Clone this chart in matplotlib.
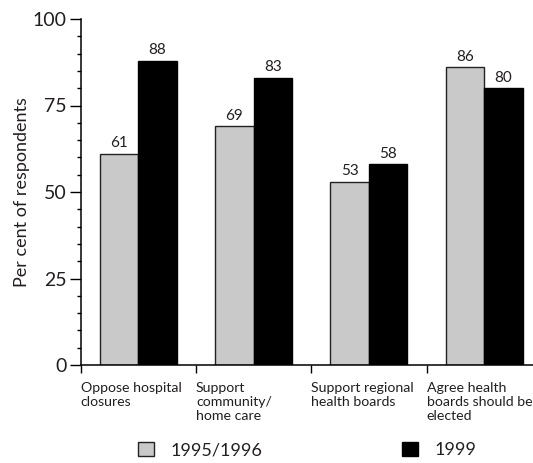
import matplotlib
matplotlib.use("Agg")
import matplotlib.pyplot as plt
from matplotlib.patches import Patch
from matplotlib.ticker import MultipleLocator

plt.rcParams['font.family'] = ['Lato', 'DejaVu Sans']

categories = ["Oppose hospital\nclosures", "Support\ncommunity/\nhome care",
              "Support regional\nhealth boards", "Agree health\nboards should be\nelected"]
series_names = ["1995/1996", "1999"]
vals_9596 = [61, 69, 53, 86]
vals_1999 = [88, 83, 58, 80]
yticks = [0, 25, 50, 75, 100]

gray = '#c9c9c9'
txt = '#231f20'

fig = plt.figure(figsize=(5.33, 4.63), dpi=100)
ax = fig.add_axes([80.7/533, (463-365)/463, (533-80.7)/533, 346/463])

bw = 0.334
x = range(len(categories))
b1 = ax.bar([i + 0.5 - bw/2 for i in x], vals_9596, width=bw, color=gray,
            edgecolor='#222222', linewidth=1.0)
b2 = ax.bar([i + 0.5 + bw/2 for i in x], vals_1999, width=bw, color='black',
            edgecolor='black', linewidth=1.0)
for bars, vals in ((b1, vals_9596), (b2, vals_1999)):
    for r, v in zip(bars, vals):
        ax.text(r.get_x() + r.get_width()/2, v + 1.0, str(v), ha='center', va='bottom',
                fontsize=11, color=txt)

ax.set_xlim(0, (533-80.7)/115.3)
ax.set_ylim(0, 100)
ax.set_yticks(yticks)
ax.yaxis.set_minor_locator(MultipleLocator(5))
ax.set_xticks(list(x))
ax.set_xticklabels(categories, ha='left', va='top', fontsize=10.2, color=txt,
                   linespacing=1.2)
for s in ('top', 'right'):
    ax.spines[s].set_visible(False)
for s in ('left', 'bottom'):
    ax.spines[s].set_linewidth(1.1)
ax.tick_params(axis='y', which='major', length=8, width=1.0, labelsize=14, labelcolor=txt, pad=2)
ax.tick_params(axis='y', which='minor', length=3, width=1.0)
ax.tick_params(axis='x', which='major', length=6, width=1.0, pad=6.5)
ax.set_ylabel("Per cent of respondents", fontsize=13, color=txt, labelpad=2)

handles = [Patch(facecolor=gray, edgecolor='#222222', linewidth=1.0),
           Patch(facecolor='black', edgecolor='black')]
fig.legend(handles, series_names, ncol=2, loc='center left',
           bbox_to_anchor=(138/533, 1 - 450/463),
           frameon=False, fontsize=13, handlelength=0.886, handleheight=0.886,
           handletextpad=0.94, columnspacing=7.7, labelcolor=txt,
           borderaxespad=0, borderpad=0)

fig.savefig("out.png", dpi=100)
